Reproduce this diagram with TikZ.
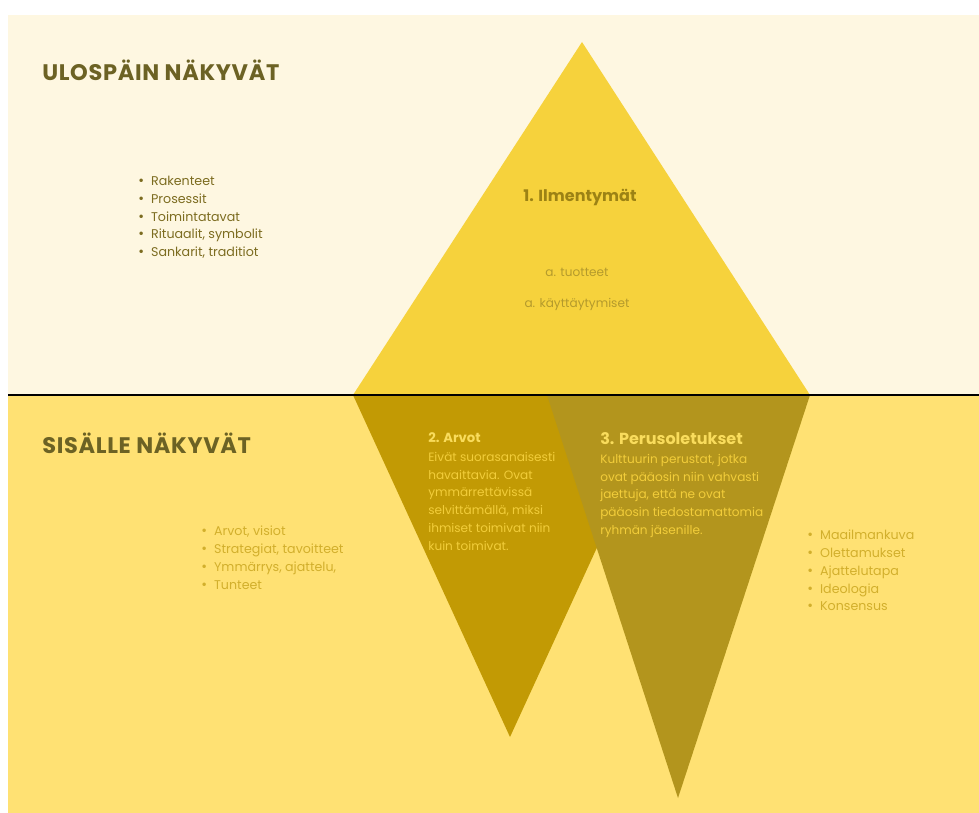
\documentclass[tikz,border=0pt]{standalone}
\usepackage{fontspec}
\setmainfont{Poppins}
\usepackage{tikz}
\definecolor{kerma}{HTML}{FEF7E1}
\definecolor{keltainen}{HTML}{FFE173}
\definecolor{kulta}{HTML}{F6D23C}
\definecolor{sinappi}{HTML}{C29A04}
\definecolor{oliivi}{HTML}{B3951D}
\definecolor{tumma}{HTML}{6C6224}
\definecolor{ruskea}{HTML}{7C6C20}
\definecolor{vaalea}{HTML}{D2AF2C}
\definecolor{huippu}{HTML}{9C8214}
\definecolor{himmea}{HTML}{B49A2C}
\definecolor{kirkas}{HTML}{F2CD3A}
\definecolor{valkea}{HTML}{F9DC5C}

\tikzset{
  otsikko/.style={font=\bfseries\fontsize{16}{19}\selectfont\addfontfeature{LetterSpace=3}, text=tumma, anchor=west, inner sep=0pt},
  teksti/.style={font=\fontsize{8.6}{12.6}\selectfont, align=left, anchor=north west, inner sep=0pt},
  lista/.style={teksti, font=\fontsize{9}{12.6}\selectfont},
}
\newcommand{\kohta}{{\fontsize{10}{10}\selectfont\textbullet}\hspace{5pt}}

\begin{document}
\begin{tikzpicture}[x=0.025cm, y=-0.025cm]
			% background
			\useasboundingbox (0,0) rectangle (979,813);
			\fill[white] (0,0) rectangle (979,813);
			\fill[kerma] (8,15) rectangle (979,395);
			\fill[keltainen] (8,395) rectangle (979,813);
			% coordinates
			\coordinate (H) at (582,42);
			\coordinate (A) at (353,395);
			\coordinate (B) at (810,395);
			\coordinate (C) at (667,395);
			\coordinate (D) at (547,395);
			\coordinate (E) at (510,737);
			\coordinate (F) at (678,798);
			\coordinate (vasen) at (8,395);
			\coordinate (oikea) at (979,395);
			% triangles
			\fill[kulta] (A) -- (H) -- (B) -- cycle;
			\fill[sinappi] (A) -- (C) -- (E) -- cycle;
			\fill[oliivi] (D) -- (B) -- (F) -- cycle;
			% waterline
			\draw[line width=1.4pt] (vasen) -- (oikea);
			% headings
			\node[otsikko] (ulos) at (42,70) {ULOSPÄIN NÄKYVÄT};
			\node[otsikko] (sisa) at (42,443) {SISÄLLE NÄKYVÄT};
			% lists
			\node[lista, text=ruskea] (ylalista) at (138,176)
			{\kohta Rakenteet\\ \kohta Prosessit\\ \kohta Toimintatavat\\
			 \kohta Rituaalit, symbolit\\ \kohta Sankarit, traditiot};
			\node[lista, text=vaalea] (alalista) at (201,526)
			{\kohta Arvot, visiot\\ \kohta Strategiat, tavoitteet\\
			 \kohta Ymmärrys, ajattelu,\\ \kohta Tunteet};
			\node[lista, text=vaalea] (oikealista) at (807,530)
			{\kohta Maailmankuva\\ \kohta Olettamukset\\ \kohta Ajattelutapa\\
			 \kohta Ideologia\\ \kohta Konsensus};
			% tip of the iceberg
			\node[font=\bfseries\fontsize{11.4}{14}\selectfont, text=huippu, inner sep=0pt] (ilm) at (580,197) {1. Ilmentymät};
			\node[font=\fontsize{8.6}{12}\selectfont, text=himmea, inner sep=0pt] (tuot) at (577,272) {a. tuotteet};
			\node[font=\fontsize{8.6}{12}\selectfont, text=himmea, inner sep=0pt] (kay) at (577,304) {a. käyttäytymiset};
			% below the surface
			\node[teksti, font=\bfseries\fontsize{9.4}{12}\selectfont, text=valkea] (arvot) at (428,432) {2. Arvot};
			\node[teksti, text=kirkas] (arvoteksti) at (428,452)
			{Eivät suorasanaisesti\\ havaittavia. Ovat\\ ymmärrettävissä\\
			 selvittämällä, miksi\\ ihmiset toimivat niin\\ kuin toimivat.};
			\node[teksti, font=\bfseries\fontsize{11.4}{13}\selectfont, text=valkea] (perus) at (600,432) {3. Perusoletukset};
			\node[teksti, text=kirkas] (perusteksti) at (600,454)
			{Kulttuurin perustat, jotka\\ ovat pääosin niin vahvasti\\ jaettuja, että ne ovat\\
			 pääosin tiedostamattomia\\ ryhmän jäsenille.};
		\end{tikzpicture}
\end{document}
